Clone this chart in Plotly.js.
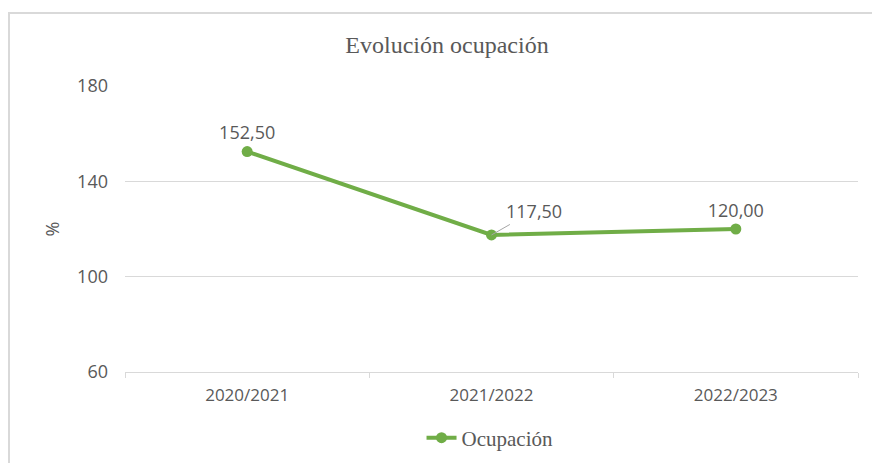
<!DOCTYPE html>
<html>
<head>
<meta charset="utf-8">
<script src="https://cdn.plot.ly/plotly-3.0.1.min.js"></script>
<style>
  html, body { margin: 0; padding: 0; background: #fff; overflow: hidden; }
  #wrap { position: relative; width: 872px; height: 463px; }
  #chart { position: absolute; left: 0; top: 0; width: 872px; height: 463px; }
  #frame { position: absolute; left: 8px; top: 12px; width: 900px; height: 500px;
           border-left: 2px solid #d9d9d9; border-top: 2px solid #d9d9d9; pointer-events: none; }
</style>
</head>
<body>
<div id="wrap">
  <div id="chart"></div>
  <div id="frame"></div>
</div>
<script>
const categories = ["2020/2021", "2021/2022", "2022/2023"];
const ocupacion = [152.5, 117.5, 120.0];
const seriesName = "Ocupación";
const yTicks = [60, 100, 140, 180];

const fmt = v => v.toFixed(2).replace('.', ',');
const labels = ocupacion.map(fmt);

const green = "#70ad47";
const grey = "#595959";
const sans = "Open Sans, Liberation Sans, sans-serif";
const serif = "Liberation Serif, DejaVu Serif, serif";

const trace = {
  x: categories,
  y: ocupacion,
  name: seriesName,
  type: "scatter",
  mode: "lines+markers+text",
  line: { color: green, width: 4 },
  marker: { color: green, size: 11 },
  text: labels.map((t, i) => i === 1 ? "" : t),
  textposition: "top center",
  textfont: { family: sans, size: 18, color: grey },
  cliponaxis: false,
  hoverinfo: "none"
};

const layout = {
  width: 872, height: 463,
  margin: { l: 125, r: 14, t: 86, b: 91, autoexpand: false },
  paper_bgcolor: "#fff", plot_bgcolor: "#fff",
  title: {
    text: "Evolución ocupación",
    font: { family: serif, size: 24, color: grey },
    x: 447 / 872, xref: "container", xanchor: "center",
    y: 1 - 45 / 463, yref: "container", yanchor: "middle"
  },
  xaxis: {
    type: "category",
    automargin: false,
    showgrid: false,
    showline: true, linecolor: "#d9d9d9", linewidth: 1,
    ticks: "outside", tickson: "boundaries", ticklen: 5, tickcolor: "#d9d9d9",
    ticklabelstandoff: 8,
    tickfont: { family: sans, size: 17, color: grey },
    range: [-0.5, 2.5],
    fixedrange: true
  },
  yaxis: {
    automargin: false,
    range: [60, 180],
    tickvals: yTicks,
    ticktext: yTicks.map(String),
    showgrid: true, gridcolor: "#d9d9d9", gridwidth: 1,
    zeroline: false, showline: false, ticks: "",
    ticklabelstandoff: 16,
    tickfont: { family: sans, size: 18, color: grey },
    title: { text: "%", font: { family: sans, size: 18, color: grey }, standoff: 12 },
    fixedrange: true
  },
  showlegend: true,
  legend: {
    orientation: "h",
    x: 0.498, xanchor: "center",
    y: -0.231, yanchor: "middle",
    font: { family: serif, size: 21, color: grey },
    bgcolor: "rgba(0,0,0,0)"
  },
  annotations: [{
    x: categories[1], y: ocupacion[1],
    xref: "x", yref: "y",
    text: labels[1],
    showarrow: true, arrowhead: 0, arrowwidth: 1, arrowcolor: "#a6a6a6",
    ax: 42, ay: -24,
    xanchor: "center", yanchor: "middle",
    font: { family: sans, size: 18, color: grey }
  }]
};

Plotly.newPlot("chart", [trace], layout, { displayModeBar: false, staticPlot: true });
</script>
</body>
</html>
